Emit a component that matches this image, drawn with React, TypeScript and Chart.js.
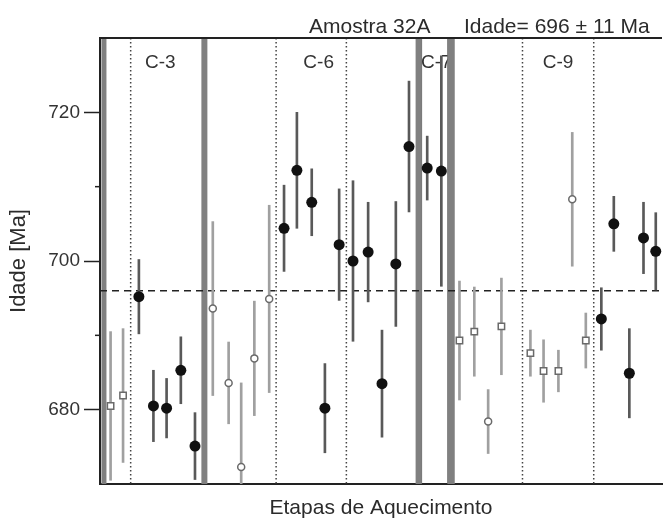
import React, { useEffect, useRef } from 'react';
import { Chart, registerables } from 'chart.js';

Chart.register(...registerables);

const FONT = "'Liberation Sans', Arial, Helvetica, sans-serif";

// Axis / labels
const yLabelTicks = [680, 700, 720];
const yMinorTicks = [690, 710];
const meanAge = 696;
const titleLeft = 'Amostra 32A';
const titleRight = 'Idade= 696 ± 11 Ma';
const xTitle = 'Etapas de Aquecimento';
const yTitle = 'Idade [Ma]';

// Crystal sections (heating-step positions)
const sectionNames = ['C-3', 'C-6', 'C-7', 'C-9'];
const sectionLabelX = [6.1, 22.1, 32.45, 46.3];
const sectionBorderX = [0.4, 10.55, 32.2, 35.5];
const dottedX = [3.1, 17.8, 24.9, 42.7, 49.9];

// Filled circles: step position, age (Ma), error (Ma)
const filledX = [3.93, 5.4, 6.73, 8.17, 9.6, 18.6, 19.9, 21.4, 22.73, 24.17, 25.57, 27.1, 28.5, 29.9, 31.23, 33.07, 34.5, 50.67, 51.93, 53.5, 54.93, 56.17];
const filledAge = [695.2, 680.5, 680.2, 685.3, 675.1, 704.4, 712.2, 707.9, 680.2, 702.2, 700.0, 701.2, 683.5, 699.6, 715.4, 712.5, 712.1, 692.2, 705.0, 684.9, 703.1, 701.3];
const filledErr = [5.0, 4.8, 4.0, 4.5, 4.5, 5.8, 7.8, 4.5, 6.0, 7.5, 10.8, 6.7, 7.2, 8.4, 8.8, 4.3, 15.5, 4.2, 3.7, 6.0, 4.8, 5.2];

// Open squares
const squareX = [1.07, 2.33, 36.33, 37.83, 40.57, 43.5, 44.83, 46.33, 49.1];
const squareAge = [680.5, 681.9, 689.3, 690.5, 691.2, 687.6, 685.2, 685.2, 689.3];
const squareErr = [10.0, 9.0, 8.0, 6.0, 6.5, 3.1, 4.2, 2.8, 3.7];

// Open circles
const circleX = [11.4, 13.0, 14.27, 15.6, 17.1, 39.23, 47.73];
const circleAge = [693.6, 683.6, 672.3, 686.9, 694.9, 678.4, 708.3];
const circleErr = [11.7, 5.5, 11.3, 7.7, 12.6, 4.3, 9.0];

const pts = (xs: number[], ys: number[]) => xs.map((x, i) => ({ x, y: ys[i] }));
const bars = (xs: number[], ys: number[], es: number[]) =>
  xs.map((x, i) => ({ x, y: [ys[i] - es[i], ys[i] + es[i]] }));

const decor = {
  id: 'decor',
  beforeDatasetsDraw(chart: any) {
    const { ctx, chartArea: a, scales } = chart;
    const x = scales.x;
    const y = scales.y;
    const vline = (px: number) => {
      ctx.beginPath();
      ctx.moveTo(px, a.top);
      ctx.lineTo(px, a.bottom);
      ctx.stroke();
    };
    ctx.save();
    ctx.beginPath();
    ctx.rect(a.left, a.top, a.right - a.left, a.bottom - a.top);
    ctx.clip();

    // dotted lines
    ctx.strokeStyle = '#444';
    ctx.lineWidth = 1.5;
    ctx.setLineDash([1.5, 2.5]);
    dottedX.forEach((v) => vline(x.getPixelForValue(v)));
    ctx.setLineDash([]);

    // section labels
    ctx.fillStyle = '#333';
    ctx.font = `19px ${FONT}`;
    ctx.textBaseline = 'alphabetic';
    sectionNames.forEach((n, i) => {
      const px = x.getPixelForValue(sectionLabelX[i]);
      ctx.save();
      if (n === 'C-7') {
        const l = x.getPixelForValue(sectionBorderX[2]);
        const r = x.getPixelForValue(sectionBorderX[3]);
        ctx.beginPath();
        ctx.rect(l, a.top, r - l, 60);
        ctx.clip();
        ctx.textAlign = 'left';
        ctx.fillText(n, px, a.top + 30);
      } else {
        ctx.textAlign = 'center';
        ctx.fillText(n, px, a.top + 30);
      }
      ctx.restore();
    });

    // C-7 thin box
    ctx.strokeStyle = '#666';
    ctx.lineWidth = 1;
    const c7l = x.getPixelForValue(sectionBorderX[2]) + 3;
    const c7r = x.getPixelForValue(sectionBorderX[3]) - 3.5;
    vline(c7l);
    vline(c7r);

    // thick section borders
    const widths = [5, 6, 6, 7];
    ctx.strokeStyle = '#808080';
    sectionBorderX.forEach((v, i) => {
      ctx.lineWidth = widths[i];
      vline(x.getPixelForValue(v));
    });

    // mean age dashed line
    const py = y.getPixelForValue(meanAge);
    ctx.strokeStyle = '#222';
    ctx.lineWidth = 1.5;
    ctx.setLineDash([7, 5]);
    ctx.beginPath();
    ctx.moveTo(a.left, py);
    ctx.lineTo(a.right, py);
    ctx.stroke();
    ctx.restore();
  },
  afterDraw(chart: any) {
    const { ctx, chartArea: a, scales } = chart;
    const y = scales.y;
    ctx.save();
    // top frame
    ctx.strokeStyle = '#222';
    ctx.lineWidth = 2;
    ctx.beginPath();
    ctx.moveTo(a.left - 1, a.top);
    ctx.lineTo(a.right, a.top);
    ctx.stroke();
    // minor ticks
    ctx.lineWidth = 1.5;
    yMinorTicks.forEach((v) => {
      const py = y.getPixelForValue(v);
      ctx.beginPath();
      ctx.moveTo(a.left - 5, py);
      ctx.lineTo(a.left, py);
      ctx.stroke();
    });
    // title
    ctx.fillStyle = '#2b2b2b';
    ctx.font = `21px ${FONT}`;
    ctx.textAlign = 'left';
    ctx.textBaseline = 'alphabetic';
    ctx.fillText(titleLeft, 309, 33);
    ctx.fillText(titleRight, 464, 33);
    ctx.restore();
  },
};

export default function App() {
  const ref = useRef<HTMLCanvasElement>(null);
  useEffect(() => {
    const chart = new Chart(ref.current as HTMLCanvasElement, {
      type: 'scatter',
      data: {
        datasets: [
          {
            type: 'bar',
            label: 'open error',
            data: [...bars(squareX, squareAge, squareErr), ...bars(circleX, circleAge, circleErr)],
            backgroundColor: '#a0a0a0',
            borderWidth: 0,
            grouped: false,
            barThickness: 2,
            maxBarThickness: 2,
            order: 4,
          } as any,
          {
            type: 'bar',
            label: 'filled error',
            data: bars(filledX, filledAge, filledErr),
            backgroundColor: '#595959',
            borderWidth: 0,
            grouped: false,
            barThickness: 2,
            maxBarThickness: 2,
            order: 3,
          } as any,
          {
            label: 'open squares',
            data: pts(squareX, squareAge),
            pointStyle: 'rect',
            pointRadius: 4.5,
            backgroundColor: '#ffffff',
            borderColor: '#6a6a6a',
            borderWidth: 1.5,
            order: 2,
          },
          {
            label: 'open circles',
            data: pts(circleX, circleAge),
            pointStyle: 'circle',
            pointRadius: 3.5,
            backgroundColor: '#ffffff',
            borderColor: '#6a6a6a',
            borderWidth: 1.5,
            order: 1,
          },
          {
            label: 'filled',
            data: pts(filledX, filledAge),
            pointStyle: 'circle',
            pointRadius: 5.5,
            backgroundColor: '#111111',
            borderColor: '#111111',
            borderWidth: 0,
            order: 0,
          },
        ],
      },
      options: {
        responsive: false,
        animation: false,
        devicePixelRatio: 1,
        layout: { padding: { top: 38, left: 0, right: 0, bottom: 0 } },
        plugins: { legend: { display: false }, tooltip: { enabled: false }, title: { display: false } },
        scales: {
          x: {
            type: 'linear',
            min: 0,
            max: 56.8,
            offset: false,
            grid: { display: false },
            border: { display: true, color: '#222', width: 2 },
            ticks: { display: false },
            title: {
              display: true,
              text: xTitle,
              color: '#2b2b2b',
              font: { size: 21, family: FONT, lineHeight: 1 },
              padding: { top: 0, bottom: -1 },
            },
            afterFit: (s: any) => {
              s.height = 34;
            },
          },
          y: {
            type: 'linear',
            min: 670,
            max: 730,
            beginAtZero: false,
            ticks: {
              stepSize: 10,
              autoSkip: false,
              padding: 4,
              color: '#333',
              font: { size: 19, family: FONT },
              callback: (v: any) => (yLabelTicks.includes(Number(v)) ? String(v) : ''),
            },
            grid: {
              display: true,
              drawOnChartArea: false,
              drawTicks: true,
              tickLength: 16,
              tickWidth: 1.5,
              tickColor: (c: any) => (c.tick && yLabelTicks.includes(c.tick.value) ? '#222' : 'rgba(0,0,0,0)'),
            },
            border: { display: true, color: '#222', width: 2 },
            title: {
              display: true,
              text: yTitle,
              color: '#2b2b2b',
              font: { size: 22, family: FONT, lineHeight: 1 },
              padding: { top: 8, bottom: 0 },
            },
            afterFit: (s: any) => {
              s.width = 100;
            },
          },
        },
      } as any,
      plugins: [decor],
    });
    return () => chart.destroy();
  }, []);

  return (
    <div style={{ position: 'absolute', left: 0, top: 0, width: 666, height: 518, overflow: 'hidden', background: '#fff' }}>
      <canvas ref={ref} width={668} height={518} style={{ display: 'block' }} />
    </div>
  );
}
